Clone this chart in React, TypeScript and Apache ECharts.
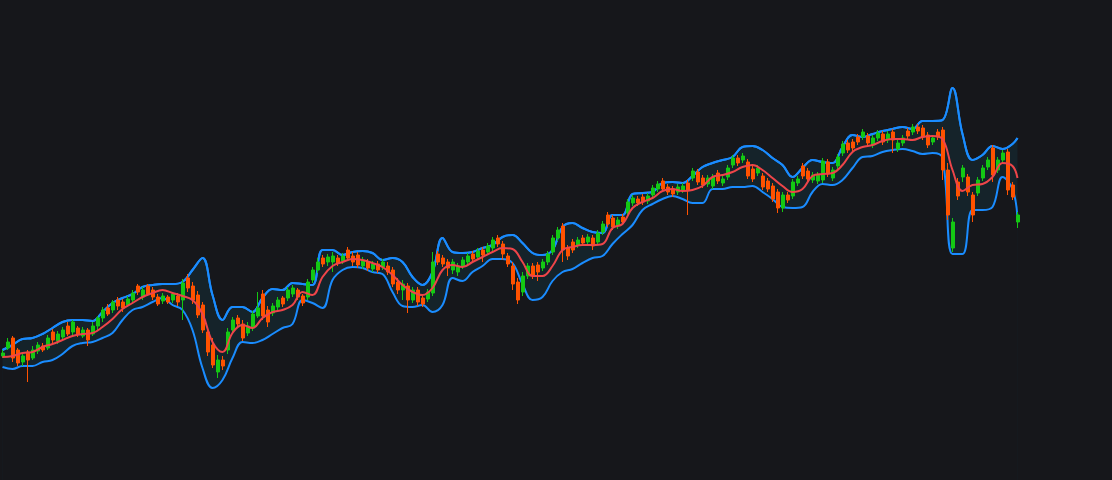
import React, { useEffect, useRef } from "react";
import * as echarts from "echarts";

// Candles: [open, close, low, high] per bar (204 bars)
const candles: number[][] = [
  [124,127,122,130],[132,138,130,142],[142,122,118,144],[130,117,114,132],[118,124,114,128],
  [128,120,98,130],[122,130,120,134],[129,135,126,138],[134,130,128,137],[132,142,130,145],
  [148,140,137,151],[139,146,136,149],[143,150,140,153],[154,146,144,158],[148,158,145,160],
  [152,146,143,154],[144,150,142,153],[150,140,134,152],[146,154,144,158],[154,162,150,164],
  [162,170,158,173],[172,166,164,176],[170,178,167,180],[180,174,170,183],[178,172,168,181],
  [175,181,173,184],[180,187,178,190],[194,188,185,196],[183,190,180,193],[194,186,184,196],
  [190,183,180,193],[183,176,174,186],[179,184,176,187],[183,178,176,185],[180,186,177,188],
  [184,178,174,187],[180,197,160,201],[202,192,188,206],[194,180,176,198],[185,165,162,189],
  [175,150,147,178],[148,128,124,150],[135,115,112,142],[108,120,102,125],[120,114,110,124],
  [130,148,126,152],[150,160,147,163],[162,156,153,165],[156,142,139,160],[147,154,144,158],
  [152,166,149,169],[164,172,162,188],[186,164,160,190],[170,158,153,174],[167,174,164,177],
  [173,180,170,183],[182,176,173,184],[182,190,179,193],[186,192,183,195],[190,183,180,192],
  [184,177,174,186],[183,198,180,201],[200,210,197,213],[210,218,207,222],[222,216,213,225],
  [218,223,214,226],[218,224,208,228],[222,217,214,225],[219,224,216,227],[230,222,219,233],
  [224,218,214,228],[225,215,212,228],[214,220,211,223],[218,212,209,221],[211,216,208,219],
  [216,210,207,219],[213,218,210,221],[214,208,205,218],[210,196,193,213],[198,190,186,202],
  [190,196,180,200],[194,180,167,197],[180,190,177,193],[190,178,174,193],[182,176,173,185],
  [181,188,178,191],[187,218,184,228],[226,218,215,229],[222,216,213,225],[218,212,204,221],
  [210,218,206,221],[208,214,204,217],[214,220,211,223],[218,224,215,227],[226,221,218,229],
  [223,229,220,232],[230,225,218,233],[228,234,225,237],[232,240,229,243],[242,236,233,245],
  [236,226,220,239],[224,216,213,227],[214,196,190,218],[198,180,176,202],[188,204,184,208],
  [204,214,201,217],[214,204,201,217],[215,208,199,218],[212,218,209,221],[218,226,215,229],
  [228,242,225,245],[242,250,239,253],[254,230,218,257],[232,224,220,235],[238,230,227,241],
  [235,240,232,243],[242,237,234,245],[238,243,235,246],[242,234,230,245],[238,247,235,250],
  [248,256,245,259],[265,256,253,268],[262,253,250,265],[254,260,251,263],[263,258,255,266],
  [267,278,264,281],[277,282,274,285],[281,277,274,284],[283,278,275,286],[279,284,276,287],
  [285,292,282,295],[291,296,288,299],[299,291,288,302],[293,288,285,296],[291,286,283,294],
  [288,293,285,296],[290,294,287,297],[297,290,265,300],[302,309,299,312],[308,298,295,311],
  [302,295,292,305],[296,302,293,305],[294,303,291,306],[307,299,296,310],[297,301,294,304],
  [303,312,300,315],[315,322,312,325],[322,317,314,325],[320,324,317,327],[318,304,301,321],
  [311,301,298,314],[307,312,304,315],[304,293,290,307],[299,291,288,302],[294,281,278,297],
  [288,272,267,291],[272,285,268,288],[285,280,277,288],[284,298,281,301],[297,301,294,304],
  [314,304,301,317],[309,301,298,312],[300,305,297,308],[299,305,296,308],[300,319,297,322],
  [318,306,303,321],[302,310,299,313],[314,323,311,326],[327,336,324,339],[337,330,327,340],
  [338,332,329,341],[343,338,335,346],[343,348,340,351],[344,337,334,347],[335,342,332,345],
  [342,347,339,350],[346,338,335,349],[340,346,337,349],[348,340,327,351],[331,337,328,340],
  [337,342,334,345],[349,344,341,352],[348,353,345,356],[353,349,346,356],[352,343,340,355],
  [345,335,332,348],[338,342,335,345],[348,343,340,351],[350,310,300,353],[310,265,260,317],
  [232,258,228,262],[298,284,280,302],[303,312,298,315],[303,288,284,306],[285,265,258,288],
  [287,300,284,303],[302,312,299,315],[313,320,310,323],[332,305,298,335],[310,320,307,323],
  [320,327,317,330],[328,290,285,331],[295,283,280,298],[258,265,252,268],
];

// Bollinger band samples, one every BAND_STEP bars (last one at the final bar)
const BAND_STEP = 2;
const upperBand: number[] = [
  130,135,141,142,146,152,158,160,160,159,
  168,177,182,186,193,195,196,196,198,210,
  222,185,160,173,173,168,182,191,190,197,
  196,195,230,230,225,228,229,227,220,222,
  218,203,195,208,242,228,227,228,232,235,
  243,245,237,227,225,230,253,257,252,248,
  247,265,265,286,287,288,297,298,297,304,
  313,317,320,323,333,334,330,322,315,303,
  312,320,318,317,333,345,343,346,349,351,
  353,351,359,359,360,392,346,320,325,334,
  331,336,342,
];
const middleBand: number[] = [
  123,124,127,128,133,136,140,144,146,147,
  153,161,171,177,183,187,190,187,184,180,
  166,138,128,147,155,152,162,168,170,175,
  188,185,203,214,218,221,220,217,213,205,
  195,188,185,192,210,215,213,218,223,228,
  232,231,218,204,204,214,230,233,235,235,
  236,252,256,272,278,282,289,291,289,290,
  294,303,305,308,313,315,310,302,294,288,
  291,304,306,307,315,328,333,335,339,341,
  341,340,343,344,341,310,289,295,296,303,
  317,314,302,
];
const lowerBand: number[] = [
  113,111,114,114,118,120,126,134,137,138,
  142,147,160,170,173,178,182,175,170,150,
  112,92,100,122,138,137,140,146,152,156,
  180,177,172,200,210,213,212,208,206,188,
  174,173,175,168,175,202,199,208,214,221,
  221,217,196,180,183,199,208,211,217,222,
  224,236,246,255,270,276,281,284,281,277,
  277,291,291,293,293,294,288,281,273,272,
  273,288,296,295,300,312,323,324,328,330,
  331,329,326,327,322,226,226,270,270,273,
  303,291,262,
];

const BG = "#16171b";
const BAND_FILL = "#15232a";
const BLUE = "#1a8cff";
const RED = "#ee4549";
const UP = "#14c814";
const DOWN = "#ff5200";

export default function App() {
  const ref = useRef<HTMLDivElement>(null);
  useEffect(() => {
    if (!ref.current) return;
    const chart = echarts.init(ref.current, undefined, { renderer: "svg" });
    const n = candles.length;
    const toPts = (arr: number[]) => arr.map((v, j) => [Math.min(j * BAND_STEP, n - 1), v]);
    const lineBase = {
      type: "line" as const,
      xAxisIndex: 1,
      yAxisIndex: 0,
      smooth: 0.4,
      showSymbol: false,
      symbol: "none",
      silent: true,
    };
    chart.setOption({
      animation: false,
      backgroundColor: BG,
      grid: { left: 0, right: 92, top: 0, bottom: 0 },
      xAxis: [
        { type: "category", show: false, boundaryGap: true, data: candles.map((_, i) => String(i)) },
        { type: "value", show: false, min: -0.5, max: n - 0.5 },
      ],
      yAxis: { type: "value", show: false, min: 0, max: 480, splitLine: { show: false } },
      series: [
        {
          ...lineBase,
          name: "upper",
          data: toPts(upperBand),
          z: 1,
          lineStyle: { color: BLUE, width: 2 },
          areaStyle: { color: BAND_FILL, opacity: 1, origin: "start" },
        },
        {
          ...lineBase,
          name: "lower",
          data: toPts(lowerBand),
          z: 2,
          lineStyle: { color: BLUE, width: 2 },
          areaStyle: { color: BG, opacity: 1, origin: "start" },
        },
        {
          ...lineBase,
          name: "upperLine",
          data: toPts(upperBand),
          z: 3,
          lineStyle: { color: BLUE, width: 2 },
        },
        {
          type: "candlestick",
          name: "price",
          xAxisIndex: 0,
          yAxisIndex: 0,
          data: candles,
          barWidth: "70%",
          z: 4,
          itemStyle: {
            color: UP,
            color0: DOWN,
            borderColor: UP,
            borderColor0: DOWN,
            borderWidth: 1,
          },
        },
        {
          ...lineBase,
          name: "middle",
          data: toPts(middleBand),
          z: 5,
          lineStyle: { color: RED, width: 2 },
        },
      ],
    });
    return () => chart.dispose();
  }, []);
  return (
    <div
      ref={ref}
      style={{ position: "fixed", left: 0, top: 0, width: 1112, height: 480 }}
    />
  );
}
